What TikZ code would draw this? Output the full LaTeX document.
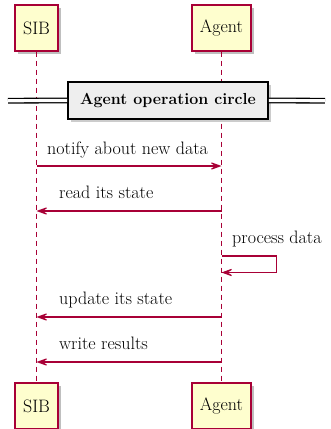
\documentclass[tikz,border=0pt]{standalone}
\usepackage{tikz}
\usetikzlibrary{arrows.meta}
\usetikzlibrary{positioning}
\usetikzlibrary{shadows}

\definecolor{umlRed}{HTML}{A80036}
\definecolor{umlYellow}{HTML}{FEFECE}
\definecolor{umlGray}{HTML}{EEEEEE}

\begin{document}
\begin{tikzpicture}[x=1pt, y=-1pt,
  every node/.style={font=\fontsize{18}{21}\selectfont},
  actor/.style={draw=umlRed, fill=umlYellow, line width=1.2pt,
    minimum height=46pt, inner xsep=8pt,
    drop shadow={shadow xshift=3pt, shadow yshift=-3pt, opacity=0.25, fill=black}},
  life/.style={umlRed, line width=0.9pt, dash pattern=on 5pt off 4pt},
  msg/.style={umlRed, line width=1.1pt, -{Stealth[length=15pt, width=11pt, inset=9pt]}},
  lbl/.style={anchor=base west, inner sep=0pt}]
  \useasboundingbox (0,0) rectangle (330,429);

  % participants, top and bottom
  \node[actor] (sibTop)   at (36.5,28)  {SIB};
  \node[actor] (agentTop) at (221.5,28) {Agent};
  \node[actor] (sibBot)   at (36.5,406) {SIB};
  \node[actor] (agentBot) at (221.5,406) {Agent};

  % lifelines
  \draw[life] (sibTop.south) -- (sibBot.north);
  \draw[life] (agentTop.south) -- (agentBot.north);

  % divider
  \coordinate (divL) at (8,100.7);
  \coordinate (divR) at (325,100.7);
  \node[draw=black, fill=umlGray, line width=1.6pt, minimum width=200pt,
    minimum height=37pt, font=\fontsize{16}{19}\selectfont\bfseries,
    drop shadow={shadow xshift=3pt, shadow yshift=-3pt, opacity=0.2, fill=black}]
    (divider) at (168,100.5) {Agent operation circle};
  \draw[line width=1.3pt, double, double distance=3.2pt] (divL) -- (divider.west);
  \draw[line width=1.3pt, double, double distance=3.2pt] (divider.east) -- (divR);

  % message points on the lifelines
  \coordinate (s1) at (sibTop |- 0,166);
  \coordinate (a1) at (agentTop |- 0,166);
  \coordinate (s2) at (sibTop |- 0,211);
  \coordinate (a2) at (agentTop |- 0,211);
  \coordinate (a3) at (agentTop |- 0,256);
  \coordinate (a4) at (agentTop |- 0,272.5);
  \coordinate (s5) at (sibTop |- 0,317);
  \coordinate (a5) at (agentTop |- 0,317);
  \coordinate (s6) at (sibTop |- 0,362);
  \coordinate (a6) at (agentTop |- 0,362);

  % messages
  \draw[msg] (s1) -- (a1);
  \node[lbl] (m1) at (47,154) {notify about new data};
  \draw[msg] (a2) -- (s2);
  \node[lbl] (m2) at (59,198) {read its state};
  \draw[msg] (a3) -- ++(55,0) |- (a4);
  \node[lbl] (m3) at (232,243) {process data};
  \draw[msg] (a5) -- (s5);
  \node[lbl] (m5) at (59,304) {update its state};
  \draw[msg] (a6) -- (s6);
  \node[lbl] (m6) at (59,349) {write results};
\end{tikzpicture}
\end{document}
